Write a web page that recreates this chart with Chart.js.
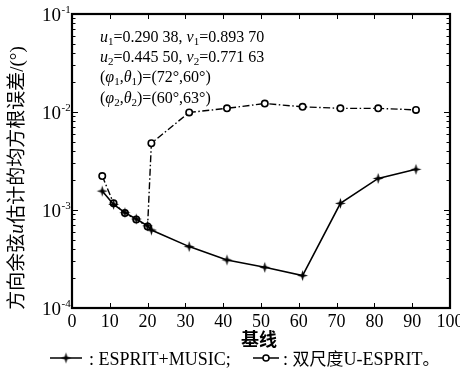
<!DOCTYPE html>
<html><head><meta charset="utf-8">
<script src="https://cdn.jsdelivr.net/npm/chart.js@4"></script>
<style>html,body{margin:0;padding:0;background:#fff}#wrap{width:460px;height:373px}</style>
</head><body><div id="wrap"><canvas id="c" width="460" height="373"></canvas></div>
<script>
// Data
const baseline = [8, 11, 14, 17, 20, 21, 31, 41, 51, 61, 71, 81, 91];
const espritMusic = [1.56e-3, 1.14e-3, 0.94e-3, 0.81e-3, 0.69e-3, 0.625e-3, 0.423e-3, 0.309e-3, 0.26e-3, 0.214e-3, 1.17e-3, 2.1e-3, 2.6e-3];
const dualU = [2.22e-3, 1.17e-3, 0.93e-3, 0.80e-3, 0.68e-3, 4.8e-3, 9.9e-3, 1.09e-2, 1.22e-2, 1.13e-2, 1.09e-2, 1.09e-2, 1.05e-2];
const xTicks = [0, 10, 20, 30, 40, 50, 60, 70, 80, 90, 100];
const yDecades = [-4, -3, -2, -1];

const SERIF = '"Liberation Serif", "Times New Roman", serif';
const CJK = '"Noto Sans CJK SC", sans-serif';

// star marker
function makeStar(){
  const c = document.createElement('canvas'); c.width = 13; c.height = 13;
  const g = c.getContext('2d'); g.fillStyle = '#000'; g.beginPath();
  const cx = 6.5, cy = 6.5, R = 5.5, r = 1.8;
  for (let i = 0; i < 8; i++) {
    const a = -Math.PI/2 + i*Math.PI/4;
    const rr = i % 2 === 0 ? R : r;
    const px = cx + rr*Math.cos(a), py = cy + rr*Math.sin(a);
    i === 0 ? g.moveTo(px, py) : g.lineTo(px, py);
  }
  g.closePath(); g.fill();
  return c;
}
const star = makeStar();

const toPts = ys => baseline.map((x, i) => ({x, y: ys[i]}));

function drawRich(ctx, x, y, segs, align) {
  let widths = segs.map(s => { ctx.font = s.font; return ctx.measureText(s.t).width; });
  let total = widths.reduce((a,b)=>a+b,0);
  let cx = align === 'center' ? x - total/2 : (align === 'right' ? x - total : x);
  segs.forEach((s,i) => {
    ctx.font = s.font;
    ctx.fillText(s.t, cx, y + (s.dy || 0));
    cx += widths[i];
  });
  return cx;
}

const decor = {
  id: 'decor',
  afterDraw(chart) {
    const ctx = chart.ctx, a = chart.chartArea;
    const xs = chart.scales.x, ys = chart.scales.y;
    ctx.save();
    ctx.strokeStyle = '#000'; ctx.fillStyle = '#000';
    // frame
    ctx.lineWidth = 2.2;
    ctx.strokeRect(a.left, a.top, a.right - a.left, a.bottom - a.top);
    // x ticks
    ctx.lineWidth = 1;
    ctx.beginPath();
    xTicks.forEach(v => {
      const px = Math.round(xs.getPixelForValue(v)) + 0.5;
      ctx.moveTo(px, a.bottom); ctx.lineTo(px, a.bottom - 5);
      ctx.moveTo(px, a.top); ctx.lineTo(px, a.top + 5);
    });
    // y ticks
    yDecades.forEach(d => {
      for (let m = 1; m <= 9; m++) {
        if (d === -1 && m > 1) break;
        const v = m * Math.pow(10, d);
        const py = Math.round(ys.getPixelForValue(v)) + 0.5;
        const L = m === 1 ? 6 : 3.5;
        ctx.moveTo(a.left, py); ctx.lineTo(a.left + L, py);
        ctx.moveTo(a.right, py); ctx.lineTo(a.right - L, py);
      }
    });
    ctx.stroke();
    // x tick labels
    ctx.font = '18px ' + SERIF; ctx.textAlign = 'center'; ctx.textBaseline = 'alphabetic';
    xTicks.forEach(v => ctx.fillText(String(v), xs.getPixelForValue(v), 327));
    // y tick labels
    yDecades.forEach(d => {
      const py = ys.getPixelForValue(Math.pow(10, d));
      ctx.textAlign = 'right'; ctx.font = '19px ' + SERIF;
      ctx.fillText('10', 61, py + 7);
      ctx.textAlign = 'left'; ctx.font = '11px ' + SERIF;
      ctx.fillText('-' + Math.abs(d), 61.5, py - 1);
    });
    ctx.textAlign = 'left';
    // annotation
    const f = '16px ' + SERIF, fi = 'italic 16px ' + SERIF, fs = '11px ' + SERIF;
    drawRich(ctx, 100, 42, [
      {t:'u', font:fi},{t:'1', font:fs, dy:3},{t:'=0.290 38, ', font:f},
      {t:'v', font:fi},{t:'1', font:fs, dy:3},{t:'=0.893 70', font:f}]);
    drawRich(ctx, 100, 62, [
      {t:'u', font:fi},{t:'2', font:fs, dy:3},{t:'=0.445 50, ', font:f},
      {t:'v', font:fi},{t:'2', font:fs, dy:3},{t:'=0.771 63', font:f}]);
    drawRich(ctx, 100, 82, [
      {t:'(', font:f},{t:'φ', font:fi},{t:'1', font:fs, dy:3},{t:',', font:f},
      {t:'θ', font:fi},{t:'1', font:fs, dy:3},{t:')=(72°,60°)', font:f}]);
    drawRich(ctx, 100, 103, [
      {t:'(', font:f},{t:'φ', font:fi},{t:'2', font:fs, dy:3},{t:',', font:f},
      {t:'θ', font:fi},{t:'2', font:fs, dy:3},{t:')=(60°,63°)', font:f}]);
    // x title
    ctx.font = 'bold 18px ' + CJK; ctx.textAlign = 'center';
    ctx.fillText('基线', 259, 346);
    ctx.textAlign = 'left';
    // legend
    ctx.lineWidth = 1.5; ctx.setLineDash([]);
    ctx.beginPath(); ctx.moveTo(50, 358); ctx.lineTo(82, 358); ctx.stroke();
    ctx.drawImage(star, 66 - 6.5, 358 - 6.5);
    ctx.font = '18px ' + SERIF;
    ctx.fillText(': ESPRIT+MUSIC;', 89, 365);
    ctx.beginPath(); ctx.moveTo(253, 358); ctx.lineTo(279, 358); ctx.stroke();
    ctx.beginPath(); ctx.arc(266, 358, 3, 0, Math.PI*2); ctx.fillStyle = '#fff'; ctx.fill(); ctx.stroke();
    ctx.fillStyle = '#000';
    drawRich(ctx, 283, 365, [
      {t:': ', font:'18px ' + SERIF},{t:'双尺度', font:'17px ' + CJK},
      {t:'U-ESPRIT', font:'18px ' + SERIF},{t:'。', font:'17px ' + CJK}]);
    // y title (vertical)
    ctx.translate(23, 178); ctx.rotate(-Math.PI/2);
    drawRich(ctx, 0, 0, [
      {t:'方向余弦', font:'19px ' + CJK},{t:'u', font:'italic 20px ' + SERIF},
      {t:'估计的均方根误差', font:'19px ' + CJK},{t:'/(°)', font:'19px ' + SERIF}], 'center');
    ctx.restore();
  }
};

new Chart(document.getElementById('c'), {
  type: 'scatter',
  data: {
    datasets: [
      {
        label: '双尺度U-ESPRIT', data: toPts(dualU), showLine: true,
        borderColor: '#000', borderWidth: 1.4, borderDash: [7, 2.5, 1.5, 2.5],
        pointStyle: 'circle', pointRadius: 3.2, pointBorderWidth: 1.6,
        pointBackgroundColor: '#fff', pointBorderColor: '#000', order: 2
      },
      {
        label: 'ESPRIT+MUSIC', data: toPts(espritMusic), showLine: true,
        borderColor: '#000', borderWidth: 1.6,
        pointStyle: star, pointRadius: 6, order: 1
      }
    ]
  },
  options: {
    responsive: false, animation: false, devicePixelRatio: 1,
    layout: { padding: { left: 72, right: 10, top: 14, bottom: 65 } },
    plugins: { legend: { display: false }, tooltip: { enabled: false } },
    scales: {
      x: {
        type: 'linear', min: 0, max: 100,
        grid: { display: false, drawTicks: false }, border: { display: false },
        ticks: { display: false },
        afterFit: s => { s.height = 0; }
      },
      y: {
        type: 'logarithmic', min: 1e-4, max: 1e-1,
        grid: { display: false, drawTicks: false }, border: { display: false },
        ticks: { display: false },
        afterFit: s => { s.width = 0; }
      }
    }
  },
  plugins: [decor]
});
</script>
</body></html>
